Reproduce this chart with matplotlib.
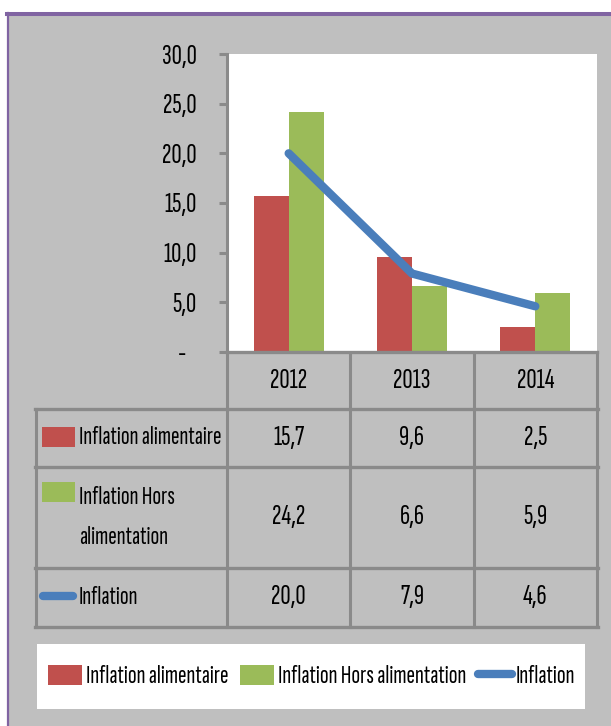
import matplotlib
matplotlib.use('Agg')
import matplotlib.pyplot as plt
from matplotlib.patches import Rectangle, Patch
from matplotlib.lines import Line2D
import numpy as np

# data
years = ['2012', '2013', '2014']
inflation_alim = [15.7, 9.6, 2.5]
inflation_hors = [24.2, 6.6, 5.9]
inflation = [20.0, 7.9, 4.6]
row_labels = ['Inflation alimentaire', 'Inflation Hors\nalimentation', 'Inflation']
legend_labels = ['Inflation alimentaire', 'Inflation Hors alimentation', 'Inflation']
yticks = [0, 5, 10, 15, 20, 25, 30]

red = '#C0504D'
green = '#9BBB59'
blue = '#4A7EBB'
line_gray = '#8A8A8A'
panel = '#BFBFBF'
purple = '#8064A2'

plt.rcParams['font.family'] = ['Sofia Sans Extra Condensed', 'DejaVu Sans']
fs = 18.5      # words
fs_num = 20.5  # numbers


def fmt(v):
    return f'{v:.1f}'.replace('.', ',')


W, H = 611, 726
fig = plt.figure(figsize=(W / 100, H / 100), dpi=100)
fig.patch.set_facecolor('white')

# background layer, pixel coordinates
lay = fig.add_axes([0, 0, 1, 1], zorder=0)
lay.set_xlim(0, W)
lay.set_ylim(H, 0)
lay.axis('off')
lay.add_patch(Rectangle((8, 14), W, H, facecolor=panel, edgecolor='none'))
lay.plot([7, W], [14, 14], color=purple, lw=2.9)
lay.plot([8, 8], [13, H], color=purple, lw=1.6)

# chart
ax_l, ax_r, ax_t, ax_b = 227, 597, 54, 352
ax = fig.add_axes([ax_l / W, 1 - ax_b / H, (ax_r - ax_l) / W, (ax_b - ax_t) / H], zorder=1)
x = np.arange(len(years))
bw = 0.284
ax.bar(x - bw / 2, inflation_alim, bw, color=red)
ax.bar(x + bw / 2, inflation_hors, bw, color=green)
ax.plot(x, inflation, color=blue, lw=6, solid_capstyle='round')
ax.set_xlim(-0.5, len(years) - 0.5)
ax.set_ylim(0, 30)
ax.set_yticks(yticks)
ax.set_yticklabels([fmt(v) if v else '-   ' for v in yticks])
ax.set_xticks([])
ax.spines['top'].set_visible(False)
ax.spines['right'].set_visible(False)
ax.spines['left'].set_color(line_gray)
ax.spines['left'].set_linewidth(2.2)
ax.spines['bottom'].set_color(line_gray)
ax.spines['bottom'].set_linewidth(2.4)
ax.tick_params(axis='y', length=6, width=2.2, color=line_gray, pad=16, labelsize=fs_num)

# data table under the chart
col_w = (ax_r - ax_l) / len(years)
col_edges = [ax_l + i * col_w for i in range(len(years) + 1)]
row_edges = [ax_b, 409, 467, 568, 627]
tab_left = 36
for cx in col_edges:
    lay.plot([cx, cx], [row_edges[0], row_edges[-1]], color=line_gray, lw=2.2)
lay.plot([tab_left, tab_left], [row_edges[1], row_edges[-1]], color=line_gray, lw=2.2)
for ry in row_edges[1:]:
    lay.plot([tab_left - 1, ax_r + 1], [ry, ry], color=line_gray, lw=2.4)

for i, yr in enumerate(years):
    lay.text(ax_l + (i + 0.5) * col_w, (row_edges[0] + row_edges[1]) / 2, yr,
             ha='center', va='center', fontsize=fs_num)

series = [inflation_alim, inflation_hors, inflation]
for r, vals in enumerate(series):
    cy = (row_edges[r + 1] + row_edges[r + 2]) / 2
    for i, v in enumerate(vals):
        lay.text(ax_l + (i + 0.5) * col_w, cy, fmt(v), ha='center', va='center', fontsize=fs_num)
    lay.text(79, cy, row_labels[r], ha='left', va='center', fontsize=fs, linespacing=1.9)

lay.add_patch(Rectangle((42, 427), 33, 20, facecolor=red, edgecolor='none'))
lay.add_patch(Rectangle((42, 482), 33, 20, facecolor=green, edgecolor='none'))
lay.plot([43, 73], [596, 596], color=blue, lw=6, solid_capstyle='round')

# legend
lay.add_patch(Rectangle((37, 644), 548, 65, facecolor='white', edgecolor='none'))
handles = [Patch(facecolor=red), Patch(facecolor=green),
           Line2D([], [], color=blue, lw=6, solid_capstyle='round')]
fig.legend(handles, legend_labels, loc='center', bbox_to_anchor=(311.5 / W, 1 - 676.5 / H),
           frameon=False, ncol=3, fontsize=fs, handlelength=1.32, handleheight=0.82,
           handletextpad=0.16, columnspacing=0.45)

fig.savefig('out.png', dpi=100, facecolor='white')
